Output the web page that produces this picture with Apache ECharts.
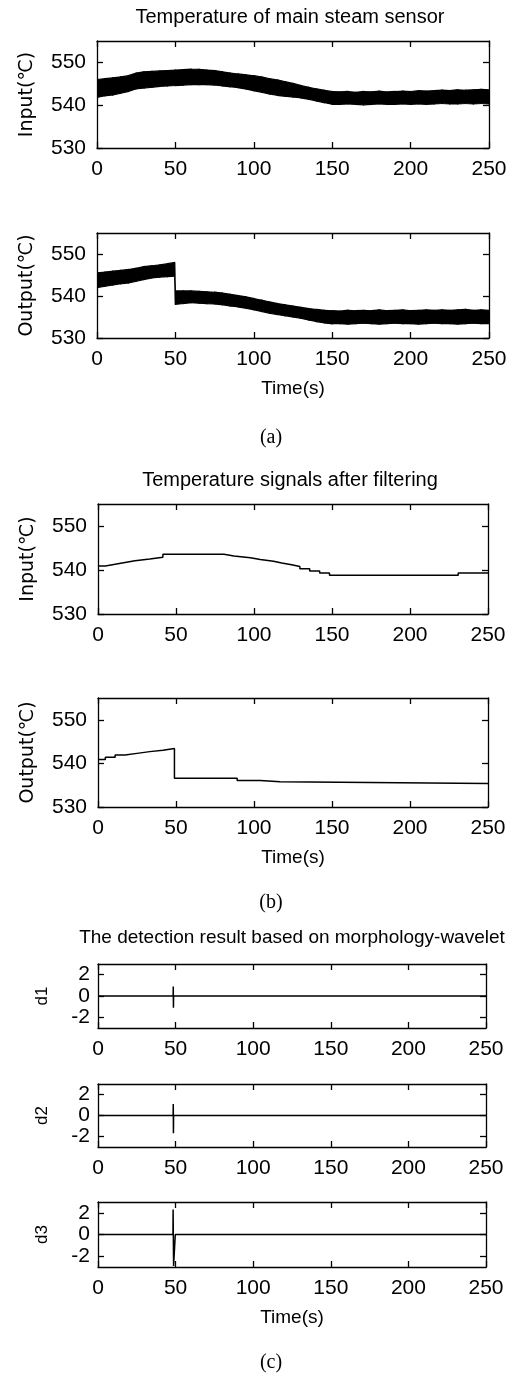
<!DOCTYPE html>
<html>
<head>
<meta charset="utf-8">
<script src="https://cdn.jsdelivr.net/npm/echarts@6/dist/echarts.min.js"></script>
<style>
  html, body { margin: 0; padding: 0; background: #fff; }
  #main { width: 530px; height: 1378px; }
</style>
</head>
<body>
<div id="main"></div>
<script>
// x ticks shared by all panels
const timeTicks = [0, 50, 100, 150, 200, 250];
const tempTicks = [530, 540, 550];
const dTicks = [-2, 0, 2];

// (a) noisy input: upper / lower edge of the black band, every 5 s
const tBand = [0, 5, 10, 15, 20, 25, 30, 35, 40, 45, 50, 55, 60, 65, 70, 75, 80, 85, 90, 95, 100,
  105, 110, 115, 120, 125, 130, 135, 140, 145, 150, 155, 160, 165, 170, 175, 180, 185, 190, 195, 200,
  205, 210, 215, 220, 225, 230, 235, 240, 245, 250];
const inHi = [546.0, 546.2, 546.4, 546.6, 546.9, 547.5, 547.8, 547.9, 548.0, 548.1, 548.2, 548.3, 548.4, 548.4,
  548.2, 548.1, 547.8, 547.5, 547.3, 547.1, 546.9, 546.6, 546.2, 545.9, 545.5, 545.1, 544.6, 544.2, 543.8,
  543.5, 543.2, 543.1, 543.2, 543.0, 543.2, 543.1, 543.3, 543.1, 543.2, 543.3, 543.2, 543.4, 543.3, 543.4,
  543.5, 543.4, 543.6, 543.5, 543.6, 543.7, 543.6];
const inLo = [541.8, 542.2, 542.4, 542.8, 543.2, 543.8, 544.0, 544.2, 544.4, 544.5, 544.6, 544.7, 544.8, 544.8,
  544.8, 544.7, 544.5, 544.3, 544.1, 543.8, 543.4, 543.0, 542.6, 542.3, 542.1, 541.9, 541.7, 541.4, 541.0,
  540.6, 540.2, 540.2, 540.3, 540.2, 540.1, 540.2, 540.3, 540.2, 540.2, 540.3, 540.2, 540.3, 540.2, 540.3,
  540.4, 540.3, 540.3, 540.4, 540.3, 540.4, 540.3];

// (a) noisy output (fault at ~50 s)
const tOut = [0, 5, 10, 15, 20, 25, 30, 35, 40, 45, 49.5, 50, 55, 60, 65, 70, 75, 80, 85, 90, 95, 100,
  105, 110, 115, 120, 125, 130, 135, 140, 145, 150, 155, 160, 165, 170, 175, 180, 185, 190, 195, 200,
  205, 210, 215, 220, 225, 230, 235, 240, 245, 250];
const outHi = [545.5, 545.7, 545.9, 546.1, 546.3, 546.6, 547.0, 547.2, 547.4, 547.7, 548.0, 541.2, 541.2, 541.2,
  541.1, 541.0, 540.9, 540.7, 540.4, 540.1, 539.8, 539.4, 539.0, 538.6, 538.2, 537.9, 537.6, 537.3, 537.0,
  536.8, 536.6, 536.5, 536.4, 536.6, 536.5, 536.6, 536.5, 536.7, 536.5, 536.6, 536.7, 536.5, 536.6, 536.7,
  536.6, 536.7, 536.6, 536.7, 536.8, 536.6, 536.7, 536.6];
const outLo = [542.0, 542.3, 542.6, 542.9, 543.1, 543.5, 543.9, 544.3, 544.5, 544.6, 544.7, 538.0, 538.2, 538.4,
  538.3, 538.2, 538.1, 537.9, 537.6, 537.4, 537.1, 536.7, 536.3, 535.9, 535.6, 535.3, 535.0, 534.7, 534.3,
  533.9, 533.6, 533.4, 533.4, 533.3, 533.4, 533.5, 533.4, 533.3, 533.4, 533.5, 533.4, 533.4, 533.3, 533.4,
  533.5, 533.4, 533.4, 533.3, 533.4, 533.5, 533.4, 533.4];

// (b) filtered signals, stair steps (time where level starts, level)
const filtInT = [0, 4.7, 11, 17.3, 23.7, 33.2, 41.6, 80.8, 87.1, 97.7, 104, 112.5, 117.8, 124.1, 129.4, 135.7, 142.1, 148.4, 230.9, 250];
const filtInV = [540.9, 541.3, 541.7, 542.1, 542.5, 542.9, 543.6, 543.2, 542.8, 542.4, 542.0, 541.6, 541.2, 540.8, 540.3, 539.8, 539.3, 538.8, 539.3, 539.3];
const filtOutT = [0, 4.7, 11, 17.3, 25, 33.2, 41.6, 49, 89.2, 104, 116.7, 250];
const filtOutV = [540.9, 541.4, 541.9, 542.3, 542.7, 543.0, 543.4, 536.6, 536.1, 535.8, 535.4, 535.4];

// (c) detail coefficients
const d1T = [0, 48.4, 48.5, 48.6, 48.7, 250];
const d1V = [0, 0, 0.9, -1.1, 0, 0];
const d2T = [0, 48.4, 48.5, 48.6, 48.7, 250];
const d2V = [0, 0, 1.1, -1.7, 0, 0];
const d3T = [0, 48.3, 48.4, 48.7, 49.6, 49.8, 250];
const d3V = [0, 0, 2.3, -2.9, -2.8, 0, 0];

const FONT = 'Liberation Sans, Arial, sans-serif';
const WIDE = 'DejaVu Sans, Liberation Sans, sans-serif';
const SERIF = 'Liberation Serif, Times New Roman, serif';

function pairs(xs, ys) {
  return xs.map((x, i) => [x, ys[i]]);
}

var chart = echarts.init(document.getElementById('main'));

// panel boxes
const grids = [
  { left: 97, top: 41, width: 392, height: 107 },
  { left: 97, top: 233, width: 392, height: 105 },
  { left: 98, top: 504, width: 390, height: 110 },
  { left: 98, top: 698, width: 390, height: 109 },
  { left: 98, top: 964, width: 388, height: 64 },
  { left: 98, top: 1084, width: 388, height: 63 },
  { left: 98, top: 1202, width: 388, height: 65 }
];
const yNames = ['Input(℃)', 'Output(℃)', 'Input(℃)', 'Output(℃)', 'd1', 'd2', 'd3'];
const hasTime = [false, true, false, true, false, false, true];

const lineAx = { show: true, onZero: false, lineStyle: { color: '#000', width: 1.3 } };
const tickAx = { show: true, inside: true, length: 6, lineStyle: { color: '#000', width: 1.3 } };

var xAxes = [], yAxes = [];
grids.forEach(function (g, i) {
  const isD = i >= 4;
  xAxes.push({
    type: 'value', gridIndex: i, position: 'bottom', min: 0, max: 250, interval: 50,
    axisLine: lineAx, axisTick: tickAx, splitLine: { show: false },
    axisLabel: { color: '#000', fontSize: 21, fontFamily: FONT, margin: 11 },
    name: hasTime[i] ? 'Time(s)' : '', nameLocation: 'middle', nameGap: 41,
    nameTextStyle: { color: '#000', fontSize: 19, fontFamily: FONT }
  });
  xAxes.push({
    type: 'value', gridIndex: i, position: 'top', min: 0, max: 250, interval: 50,
    axisLine: lineAx, axisTick: tickAx, splitLine: { show: false },
    axisLabel: { show: false }
  });
  const ticks = isD ? dTicks : tempTicks;
  yAxes.push({
    type: 'value', gridIndex: i, position: 'left',
    min: isD ? -3 : 530, max: isD ? 3 : 555,
    axisLine: lineAx, splitLine: { show: false },
    axisTick: Object.assign({ customValues: ticks }, tickAx),
    axisLabel: { customValues: ticks, color: '#000', fontSize: 21, fontFamily: FONT, margin: isD ? 8 : 11 },
    name: yNames[i], nameLocation: 'middle', nameGap: isD ? 47 : 60,
    nameTextStyle: isD
      ? { color: '#000', fontSize: 17, fontFamily: FONT }
      : { color: '#000', fontSize: 19, fontFamily: WIDE }
  });
  yAxes.push({
    type: 'value', gridIndex: i, position: 'right',
    min: isD ? -3 : 530, max: isD ? 3 : 555,
    axisLine: lineAx, splitLine: { show: false },
    axisTick: Object.assign({ customValues: ticks }, tickAx),
    axisLabel: { show: false }
  });
});

// noisy signal drawn as a filled band between its lower and upper edge
function band(i, xs, lo, hi) {
  return {
    type: 'custom', xAxisIndex: 2 * i, yAxisIndex: 2 * i, clip: true,
    encode: { x: 0, y: [1, 2] },
    data: xs.map((x, k) => [x, lo[k], hi[k]]),
    renderItem: function (params, api) {
      const k = params.dataIndex;
      if (k >= xs.length - 1) return;
      const pts = [
        api.coord([xs[k], hi[k]]),
        api.coord([xs[k + 1], hi[k + 1]]),
        api.coord([xs[k + 1], lo[k + 1]]),
        api.coord([xs[k], lo[k]])
      ];
      return {
        type: 'polygon',
        shape: { points: pts },
        style: { fill: '#000', stroke: '#000', lineWidth: 1.2 }
      };
    }
  };
}

function trace(i, xs, ys, step) {
  return {
    type: 'line', xAxisIndex: 2 * i, yAxisIndex: 2 * i,
    data: pairs(xs, ys), symbol: 'none', step: step || false,
    lineStyle: { color: '#000', width: 1.5 }
  };
}

var series = [
  band(0, tBand, inLo, inHi),
  band(1, tOut, outLo, outHi),
  trace(2, filtInT, filtInV, 'end'),
  trace(3, filtOutT, filtOutV, 'end'),
  trace(4, d1T, d1V),
  trace(5, d2T, d2V),
  trace(6, d3T, d3V)
];

function label(text, x, y, size, family) {
  return {
    type: 'text', x: x, y: y,
    style: { text: text, fill: '#000', fontSize: size, fontFamily: family || FONT, textAlign: 'center', textVerticalAlign: 'middle' }
  };
}

var option = {
  animation: false,
  backgroundColor: '#fff',
  grid: grids,
  xAxis: xAxes,
  yAxis: yAxes,
  series: series,
  graphic: [
    label('Temperature of main steam sensor', 290, 17, 20),
    label('(a)', 271, 438, 20, SERIF),
    label('Temperature signals after filtering', 290, 480, 20),
    label('(b)', 271, 903, 20, SERIF),
    label('The detection result based on morphology-wavelet', 292, 938, 19),
    label('(c)', 271, 1363, 20, SERIF)
  ]
};

chart.setOption(option);
</script>
</body>
</html>
